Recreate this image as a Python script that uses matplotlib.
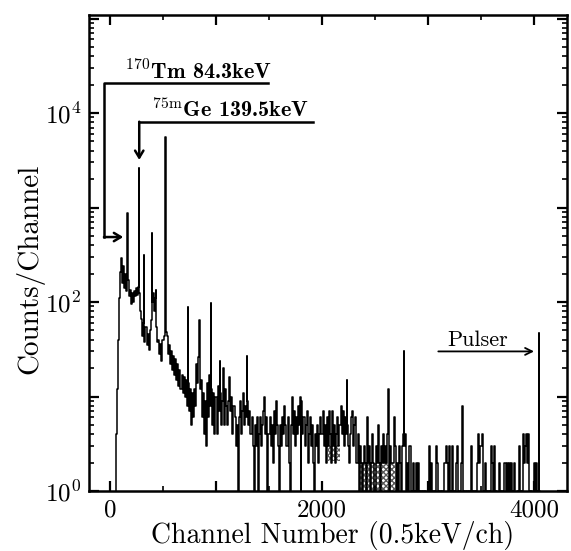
import numpy as np
import matplotlib
matplotlib.use("Agg")
import matplotlib.pyplot as plt
from matplotlib.ticker import LogLocator, MultipleLocator, FixedLocator, FuncFormatter, NullFormatter

channels = np.arange(0, 4100, 10)
counts = [
    0, 0, 0, 0, 0, 0, 4, 12, 40, 110,            # 0-90
    210, 290, 160, 240, 140, 200, 130, 170, 115, 135,
    95, 125, 100, 130, 115, 140, 120, 145, 125, 80,
    66, 44, 60, 38, 55, 35, 46, 31, 50, 65,
    100, 125, 80, 110, 55, 38, 40, 28, 36, 24,   # 400
    40, 44, 65, 48, 44, 28, 35, 22, 30, 19,
    27, 17, 25, 15, 22, 13, 19, 12, 17, 11,
    16, 10, 15, 8, 14, 7, 12, 5, 11, 6,
    12, 8, 22, 14, 26, 12, 15, 6, 11, 4,
    9, 3, 14, 6, 17, 8, 12, 5, 11, 4,
    10, 4, 13, 7, 11, 5, 9, 20, 5, 12,           # 1000
    8, 5, 9, 16, 7, 10, 4, 8, 6, 3,
    5, 0, 6, 9, 4, 7, 11, 5, 8, 6,
    9, 5, 7, 4, 6, 3, 0, 5, 3, 6,
    0, 4, 6, 3, 5, 7, 10, 4, 6, 0,
    4, 6, 3, 5, 2, 7, 4, 9, 5, 3,
    0, 5, 3, 6, 4, 8, 5, 3, 6, 2,
    0, 5, 10, 4, 7, 3, 6, 4, 8, 5,
    0, 9, 4, 6, 3, 5, 7, 2, 4, 6,
    3, 5, 2, 0, 4, 3, 5, 2, 4, 6,
    4, 7, 3, 5, 2, 6, 3, 7, 4, 2,                # 2000
    7, 3, 5, 2, 4, 6, 3, 5, 8, 4,
    7, 3, 6, 4, 5, 3, 2, 4, 6, 7,
    3, 5, 6, 2, 4, 0, 3, 2, 0, 2,
    3, 2, 0, 6, 2, 3, 0, 2, 4, 2,
    0, 3, 2, 5, 2, 0, 3, 2, 4, 2,
    3, 2, 4, 2, 0, 3, 2, 2, 6, 3,
    0, 2, 0, 3, 2, 0, 3, 4, 3, 4,
    0, 2, 1, 3, 0, 1, 2, 0, 1, 2,
    0, 2, 1, 0, 1, 0, 1, 0, 1, 0,
    0, 3, 1, 2, 0, 1, 0, 1, 3, 2,                # 3000
    1, 0, 1, 0, 1, 0, 2, 3, 2, 0,
    3, 1, 0, 3, 1, 0, 1, 2, 3, 0,
    1, 0, 2, 1, 0, 1, 0, 1, 0, 1,
    0, 3, 1, 0, 1, 0, 1, 2, 4, 2,
    3, 4, 1, 0, 2, 1, 0, 1, 0, 1,
    3, 2, 1, 3, 0, 1, 0, 2, 1, 0,
    1, 0, 2, 2, 1, 2, 0, 2, 1, 2,
    0, 1, 2, 0, 1, 0, 3, 1, 0, 1,
    4, 2, 3, 4, 2, 4, 1, 0, 1, 0,
    2, 1, 2, 1, 0, 1, 0, 0, 0, 0,                # 4000
]

# sharp lines
peak_ch = [167, 274, 321, 399, 434, 522, 739, 842, 950, 1038, 1290,
           1724, 1799, 2233, 2625, 2774, 3324, 4047]
peak_counts = [870, 2600, 316, 540, 134, 5600, 89, 64, 97, 24, 27,
               10, 10, 15, 12, 30, 8, 47]

x = np.concatenate([channels, peak_ch])
y = np.concatenate([counts, peak_counts]).astype(float)
order = np.argsort(x, kind="stable")
x, y = x[order], y[order]

plt.rcParams["font.family"] = "cmr10"
plt.rcParams["mathtext.fontset"] = "cm"
plt.rcParams["axes.formatter.use_mathtext"] = True
plt.rcParams["axes.unicode_minus"] = False

fig = plt.figure(figsize=(5.71, 5.51), dpi=100)
ax = fig.add_axes([0.1564, 0.1089, 0.8366, 0.8639])

ax.set_yscale("log", nonpositive="clip")
ax.plot(x, y, color="black", lw=1.1, drawstyle="steps-mid")

# print moire areas under the dense histogram
ax.fill_between([2358, 2689], 1, 2, facecolor="none", edgecolor="0.35",
                hatch="xxxxxx", linewidth=0)
ax.fill_between([2057, 2170], 2.1, 3.1, facecolor="none", edgecolor="0.35",
                hatch="xxxxxx", linewidth=0)

ax.set_xlim(-195, 4311)
ax.set_ylim(1, 1.09e5)

# annotations
ax.plot([1491, -57, -57], [20750, 20750, 487], color="black", lw=1.8)
ax.annotate("", xy=(125, 487), xytext=(-57, 487),
            arrowprops=dict(arrowstyle="->,head_length=0.5,head_width=0.3", lw=1.8, color="black",
                            shrinkA=0, shrinkB=0))
ax.text(142, 22600, r"$^{170}$Tm 84.3keV", fontsize=16, family="cmb10", va="baseline")

ax.plot([1912, 276], [8090, 8090], color="black", lw=1.8)
ax.annotate("", xy=(276, 3185), xytext=(276, 8090),
            arrowprops=dict(arrowstyle="->,head_length=0.5,head_width=0.3", lw=1.8, color="black",
                            shrinkA=0, shrinkB=0))
ax.text(393, 9140, r"$^{75\mathrm{m}}$Ge 139.5keV", fontsize=16, family="cmb10", va="baseline")

ax.annotate("", xy=(4000, 30), xytext=(3097, 30),
            arrowprops=dict(arrowstyle="->,head_length=0.5,head_width=0.25", lw=1.3, color="black",
                            shrinkA=0, shrinkB=0))
ax.text(3467, 34, "Pulser", fontsize=16, ha="center", va="baseline")

# axes styling
ax.xaxis.set_major_locator(FixedLocator([0, 1000, 2000, 3000, 4000]))
ax.xaxis.set_minor_locator(MultipleLocator(500))
ax.xaxis.set_major_formatter(FuncFormatter(lambda v, p: "%d" % v if v in (0, 2000, 4000) else ""))
ax.yaxis.set_major_locator(LogLocator(base=10, numticks=10))
ax.yaxis.set_minor_locator(LogLocator(base=10, subs=np.arange(2, 10), numticks=20))
ax.yaxis.set_minor_formatter(NullFormatter())


def ylab(v, pos):
    e = int(round(np.log10(v)))
    return r"$10^{%d}$" % e if e in (0, 2, 4) else ""


ax.yaxis.set_major_formatter(FuncFormatter(ylab))

ax.tick_params(which="both", direction="in", top=True, right=True, labelsize=18)
ax.tick_params(which="major", length=7, width=1.6, pad=6)
ax.tick_params(which="minor", length=3.5, width=1.2)
for s in ax.spines.values():
    s.set_linewidth(1.8)

ax.set_xlabel("Channel Number (0.5keV/ch)", fontsize=20)
ax.xaxis.set_label_coords(0.51, -0.064)
ax.set_ylabel("Counts/Channel", fontsize=21)
ax.yaxis.set_label_coords(-0.095, 0.466)

fig.savefig("out.png", dpi=100)
